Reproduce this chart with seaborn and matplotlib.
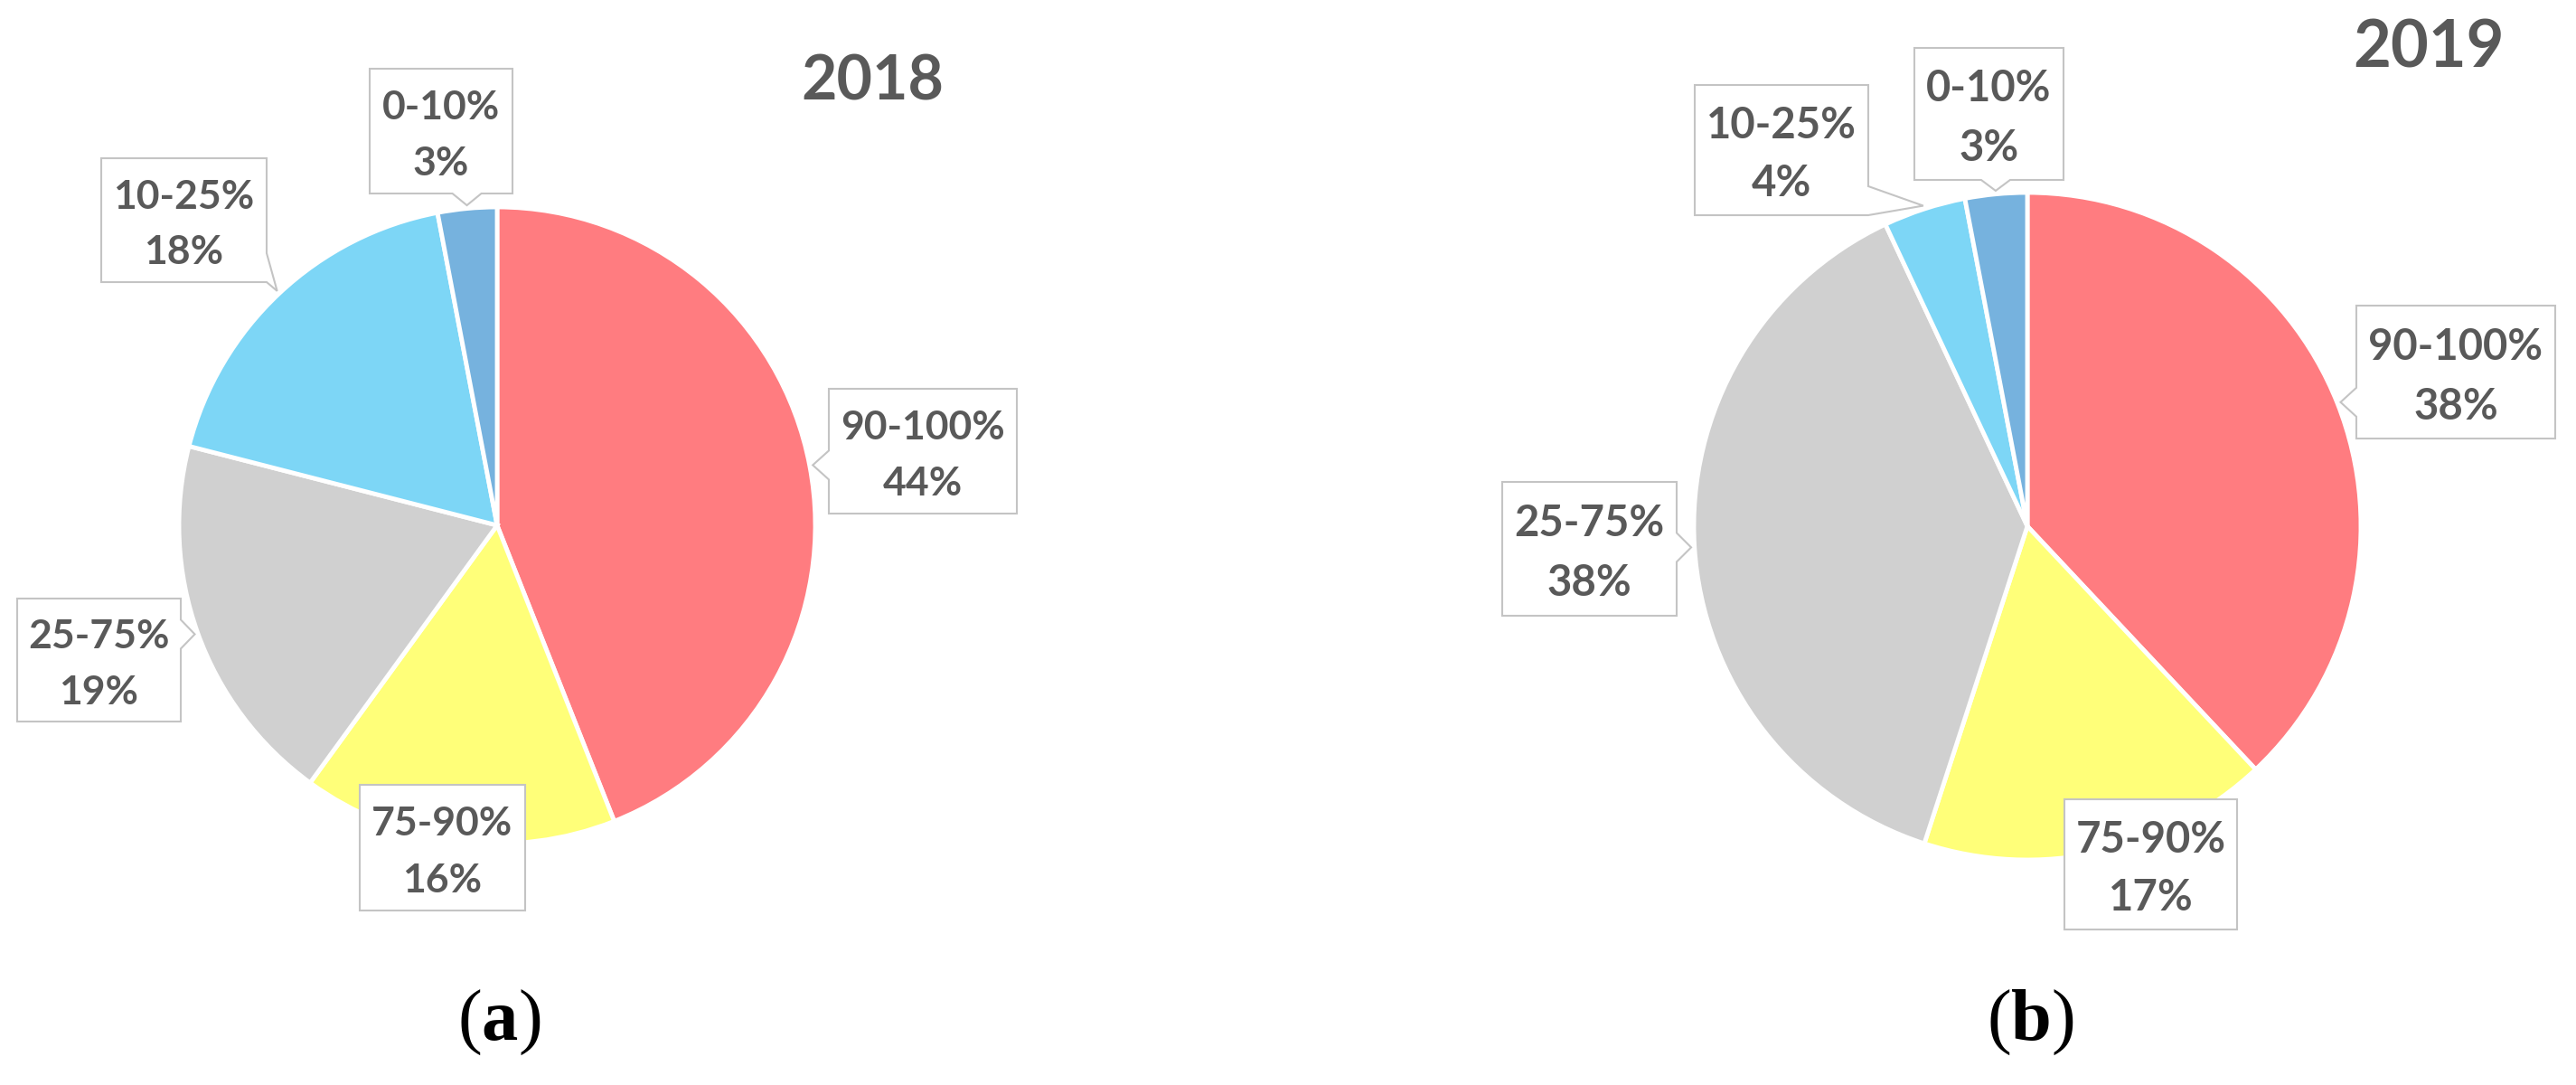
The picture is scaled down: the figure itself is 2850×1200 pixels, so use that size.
import matplotlib
matplotlib.use("Agg")
import matplotlib.pyplot as plt
import matplotlib.patches as mpatches
import numpy as np
import seaborn as sns

# ---------------------------
# DATA
# ---------------------------
ranges = ["90-100%", "75-90%", "25-75%", "10-25%", "0-10%"]
share_2018 = [44, 16, 19, 18, 3]
share_2019 = [38, 17, 38, 4, 3]
years = ["2018", "2019"]
panels = ["a", "b"]

# ---------------------------
# LAYOUT (pixel coords, y down)
# ---------------------------
W, H = 2850, 1200
pie_center = [(550, 581), (2243, 582)]
pie_radius = [352, 369]
# label boxes (x0, top, x1, bottom), same order as ranges
boxes = [
    [(917, 430, 1125, 568), (398, 868, 581, 1007), (19, 662, 200, 798),
     (112, 175, 295, 312), (409, 76, 567, 214)],
    [(2607, 338, 2827, 485), (2284, 884, 2475, 1028), (1662, 533, 1855, 681),
     (1875, 94, 2067, 238), (2118, 53, 2283, 199)],
]
title_pos = [(965, 91), (2687, 54)]
caption_pos = [(552, 1131), (2246, 1131)]
label_pt = [32, 34]
title_pt = [49, 52]

palette = sns.color_palette(["#FF7C80", "#FFFF79", "#D0D0D0", "#7DD6F6", "#76B2DE"])
text_color = "#595959"
box_edge = "#C4C4C4"

sns.set_theme(style="white")
plt.rcParams["font.family"] = ["Lato", "DejaVu Sans"]
plt.rcParams["mathtext.fontset"] = "custom"
plt.rcParams["mathtext.rm"] = "Liberation Serif"
plt.rcParams["mathtext.bf"] = "Liberation Serif:bold"


def callout_points(box, tip, w=16):
    x0, y0, x1, y1 = box
    tx, ty = tip
    gaps = {"left": x0 - tx, "right": tx - x1, "top": y0 - ty, "bottom": ty - y1}
    side = max(gaps, key=gaps.get)
    if gaps[side] <= 0:
        return [(x0, y0), (x1, y0), (x1, y1), (x0, y1)]
    if side == "top":
        c = np.clip(tx, x0 + w, x1 - w)
        return [(x0, y0), (c - w, y0), (tx, ty), (c + w, y0), (x1, y0), (x1, y1), (x0, y1)]
    if side == "right":
        c = np.clip(ty, y0 + w, y1 - w)
        return [(x0, y0), (x1, y0), (x1, c - w), (tx, ty), (x1, c + w), (x1, y1), (x0, y1)]
    if side == "bottom":
        c = np.clip(tx, x0 + w, x1 - w)
        return [(x0, y0), (x1, y0), (x1, y1), (c + w, y1), (tx, ty), (c - w, y1), (x0, y1)]
    c = np.clip(ty, y0 + w, y1 - w)
    return [(x0, y0), (x1, y0), (x1, y1), (x0, y1), (x0, c + w), (tx, ty), (x0, c - w)]


fig = plt.figure(figsize=(W / 100, H / 100), dpi=100)
ax = fig.add_axes([0, 0, 1, 1])

for i, values in enumerate([share_2018, share_2019]):
    # y axis is inverted below, so start at -90 and go "counterclock" = clockwise on screen
    wedges, _ = ax.pie(
        values,
        colors=palette,
        startangle=-90,
        counterclock=True,
        center=pie_center[i],
        radius=pie_radius[i],
        wedgeprops=dict(edgecolor="white", linewidth=3.5),
    )

    px_pt = label_pt[i] * 100 / 72
    cap = 0.7165 * px_pt
    for j, wdg in enumerate(wedges):
        mid = np.deg2rad((wdg.theta1 + wdg.theta2) / 2)
        cx, cy = wdg.center
        tip = (cx + wdg.r * 1.01 * np.cos(mid), cy + wdg.r * 1.01 * np.sin(mid))
        box = boxes[i][j]
        poly = mpatches.Polygon(callout_points(box, tip), closed=True,
                                facecolor="white", edgecolor=box_edge,
                                linewidth=1.5, zorder=5)
        ax.add_patch(poly)
        x0, y0, x1, y1 = box
        h = y1 - y0
        xm = (x0 + x1) / 2
        ax.text(xm, y0 + 0.29 * h + cap / 2, ranges[j], ha="center", va="baseline",
                fontsize=label_pt[i], fontweight="bold", color=text_color, zorder=6)
        ax.text(xm, y0 + 0.74 * h + cap / 2, f"{values[j]}%", ha="center", va="baseline",
                fontsize=label_pt[i], fontweight="bold", color=text_color, zorder=6)

    ax.text(title_pos[i][0], title_pos[i][1], years[i], ha="center", va="center",
            fontsize=title_pt[i], fontweight="bold", color=text_color)
    ax.text(caption_pos[i][0], caption_pos[i][1],
            r"$\mathrm{(}\mathbf{" + panels[i] + r"}\mathrm{)}$",
            ha="center", va="center", fontsize=58, color="black")

ax.set_xlim(0, W)
ax.set_ylim(H, 0)
ax.set_aspect("equal")
ax.axis("off")

fig.savefig("out.png", dpi=100, facecolor="white")
